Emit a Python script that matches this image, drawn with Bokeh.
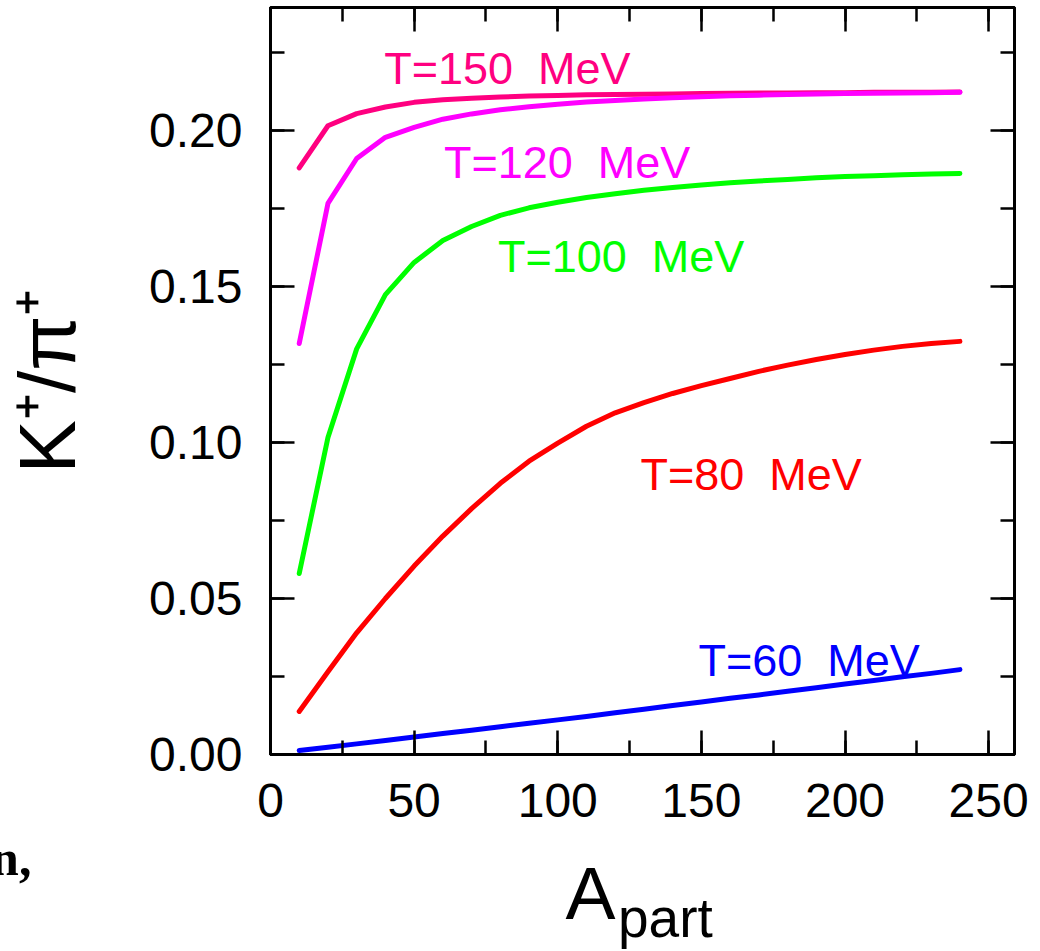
from bokeh.plotting import figure
from bokeh.models import (LinearAxis, Range1d, SingleIntervalTicker, NumeralTickFormatter,
                          FixedTicker, ColumnDataSource)
from bokeh.core.properties import value
from bokeh.embed import file_html
from bokeh.resources import INLINE

# ---- data ----
A_part = [10, 20, 30, 40, 50, 60, 70, 80, 90, 100, 110, 120,
          130, 140, 150, 160, 170, 180, 190, 200, 210, 220, 230, 240]

T150 = [0.1880, 0.2015, 0.2054, 0.2075, 0.2090, 0.2098, 0.2103, 0.2107, 0.2110, 0.2112, 0.2114, 0.2115,
        0.2116, 0.2117, 0.2118, 0.2119, 0.2120, 0.2120, 0.2121, 0.2121, 0.2122, 0.2122, 0.2122, 0.2123]
T120 = [0.1317, 0.1766, 0.1910, 0.1978, 0.2010, 0.2036, 0.2053, 0.2066, 0.2076, 0.2084, 0.2091, 0.2096,
        0.2101, 0.2105, 0.2108, 0.2111, 0.2113, 0.2115, 0.2117, 0.2118, 0.2119, 0.2120, 0.2121, 0.2122]
T100 = [0.0580, 0.1016, 0.1300, 0.1474, 0.1577, 0.1647, 0.1692, 0.1728, 0.1752, 0.1770, 0.1785, 0.1797,
        0.1808, 0.1817, 0.1825, 0.1832, 0.1838, 0.1843, 0.1848, 0.1852, 0.1855, 0.1858, 0.1860, 0.1862]
T80 = [0.0138, 0.0265, 0.0390, 0.0500, 0.0604, 0.0700, 0.0788, 0.0869, 0.0940, 0.0998, 0.1052, 0.1095,
       0.1128, 0.1157, 0.1182, 0.1205, 0.1228, 0.1248, 0.1266, 0.1282, 0.1296, 0.1308, 0.1317, 0.1324]
T60 = [0.0013, 0.0023, 0.0034, 0.0045, 0.0056, 0.0067, 0.0078, 0.0089, 0.0100, 0.0111, 0.0122, 0.0134,
       0.0145, 0.0157, 0.0168, 0.0180, 0.0191, 0.0203, 0.0214, 0.0226, 0.0237, 0.0249, 0.0260, 0.0272]

series_names = ["T=150\u00a0 MeV", "T=120\u00a0 MeV", "T=100\u00a0 MeV", "T=80\u00a0 MeV", "T=60\u00a0 MeV"]
series_values = [T150, T120, T100, T80, T60]
series_colors = ["#ff0080", "#ff00ff", "#00ff00", "#ff0000", "#0000ff"]
label_x = [39.6, 60.4, 79.2, 128.8, 149.0]
label_y = [0.2199, 0.1897, 0.1596, 0.0897, 0.0301]

x_ticks_interval = 50
y_ticks_interval = 0.05

x_title_main = "A"
x_title_sub = "part"
y_title = "K\u207a/\u03c0\u207a"
page_fragment = "n,"

FONT = "Liberation Sans"
NB = "\u00a0"

p = figure(width=1040, height=951, output_backend="svg", toolbar_location=None,
           x_range=Range1d(0, 259), y_range=Range1d(0, 0.2394),
           x_axis_location=None, y_axis_location=None,
           min_border_left=268, min_border_right=26, min_border_top=7, min_border_bottom=197,
           background_fill_color="white", border_fill_color="white")
p.grid.visible = False
p.outline_line_color = "black"
p.outline_line_width = 3


def style_axis(ax, labels=True):
    ax.axis_line_width = 3
    ax.axis_line_color = "black"
    ax.major_tick_in = 24
    ax.major_tick_out = 0
    ax.minor_tick_in = 14
    ax.minor_tick_out = 0
    ax.major_tick_line_width = 2.5
    ax.minor_tick_line_width = 2.5
    ax.major_tick_line_color = "black"
    ax.minor_tick_line_color = "black"
    if labels:
        ax.major_label_text_font = FONT
        ax.major_label_text_font_size = "48px"
        ax.major_label_text_color = "black"
    else:
        ax.major_label_text_font_size = "1px"
        ax.major_label_text_color = None
        ax.major_label_standoff = 0


def title_axis(text, font, size, style, standoff):
    ax = LinearAxis(ticker=FixedTicker(ticks=[], minor_ticks=[]))
    ax.axis_line_color = None
    ax.major_tick_line_color = None
    ax.minor_tick_line_color = None
    ax.major_tick_out = 0
    ax.major_tick_in = 0
    ax.minor_tick_out = 0
    ax.minor_tick_in = 0
    ax.major_label_text_font_size = "1px"
    ax.major_label_text_color = None
    ax.major_label_standoff = 0
    ax.axis_label = text
    ax.axis_label_text_font = font
    ax.axis_label_text_font_size = size
    ax.axis_label_text_font_style = style
    ax.axis_label_text_color = "black"
    ax.axis_label_standoff = standoff
    return ax


xb = LinearAxis(ticker=SingleIntervalTicker(interval=x_ticks_interval, num_minor_ticks=2))
style_axis(xb)
xb.major_label_standoff = 29
p.add_layout(xb, "below")

# stacked, tick-less axes that only carry text below the x axis
p.add_layout(title_axis(page_fragment + NB * 101, "Liberation Serif", "50px", "bold", 10), "below")
p.add_layout(title_axis(x_title_main + NB * 5, FONT, "75px", "normal", -38), "below")
p.add_layout(title_axis(NB * 3 + x_title_sub, FONT, "55px", "normal", -51), "below")

xa = LinearAxis(ticker=SingleIntervalTicker(interval=x_ticks_interval, num_minor_ticks=2))
style_axis(xa, labels=False)
p.add_layout(xa, "above")

yl = LinearAxis(ticker=SingleIntervalTicker(interval=y_ticks_interval, num_minor_ticks=2),
                formatter=NumeralTickFormatter(format="0.00"))
style_axis(yl)
yl.major_label_standoff = 28
yl.axis_label = y_title
yl.axis_label_text_font = FONT
yl.axis_label_text_font_size = "80px"
yl.axis_label_text_font_style = "normal"
yl.axis_label_text_color = "black"
yl.axis_label_standoff = 54
p.add_layout(yl, "left")

yr = LinearAxis(ticker=SingleIntervalTicker(interval=y_ticks_interval, num_minor_ticks=2))
style_axis(yr, labels=False)
p.add_layout(yr, "right")

for name, vals, col in zip(series_names, series_values, series_colors):
    src = ColumnDataSource(dict(x=A_part, y=vals))
    p.line("x", "y", source=src, line_color=col, line_width=5, line_cap="round", line_join="round")

lsrc = ColumnDataSource(dict(x=label_x, y=label_y, t=series_names, c=series_colors))
p.text("x", "y", text="t", source=lsrc, text_color="c", text_font=value(FONT),
       text_font_size="45px", text_align="left", text_baseline="alphabetic")

open("out.html", "w").write(file_html(p, INLINE))
